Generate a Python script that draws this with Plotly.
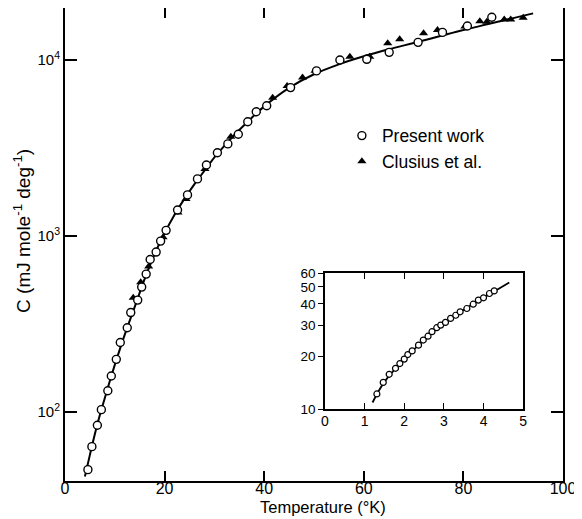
import plotly.graph_objects as go

# ---- Data ----
present_T = [4.6, 5.4, 6.5, 7.3, 8.6, 9.3, 10.3, 11.1, 12.5, 13.2, 14.6, 15.4, 16.3, 17.1,
             18.3, 19.2, 20.3, 22.6, 24.6, 26.6, 28.4, 30.6, 32.7, 34.8, 36.7, 38.4, 40.5,
             45.3, 50.5, 55.2, 60.6, 65.1, 70.9, 75.8, 80.8, 85.7]
present_C = [47, 63.5, 84, 103, 132, 160, 199, 248, 301, 367, 432, 512, 607, 735,
             810, 935, 1076, 1405, 1711, 2110, 2530, 2970, 3335, 3785, 4455, 5080, 5495,
             6970, 8670, 10000, 10090, 11050, 12600, 14350, 15600, 17500]

clusius_T = [13.7, 15.2, 16.8, 19.7, 22.7, 24.3, 28.1, 33.3, 38.5, 41.7, 44.6, 47.7, 50.2,
             57.2, 61.2, 64.8, 67.2, 72.0, 74.8, 80.3, 83.3, 84.7, 88.2, 89.5, 92.0]
clusius_C = [445, 545, 670, 984, 1360, 1620, 2400, 3660, 5130, 6110, 7110, 7950, 8700,
             10450, 10450, 12450, 13100, 14200, 14790, 15500, 16600, 16500, 17000, 17000, 17400]

curve_T = [4, 5, 6, 7, 8, 9, 10, 12, 14, 16, 18, 20, 22, 24, 26, 28, 30, 32, 34, 37, 40,
           45, 50, 55, 60, 65, 70, 75, 80, 85, 90, 94]
curve_C = [43, 57, 75, 96, 120, 150, 185, 275, 395, 570, 790, 1040, 1320, 1630, 1970, 2350,
           2800, 3250, 3750, 4550, 5450, 6950, 8300, 9450, 10500, 11500, 12500, 13600, 14800,
           16000, 17300, 18400]

inset_T = [1.31, 1.47, 1.62, 1.78, 1.89, 2.0, 2.09, 2.2, 2.36, 2.48, 2.60, 2.70, 2.82, 2.92,
           3.04, 3.17, 3.30, 3.41, 3.58, 3.74, 3.87, 4.0, 4.15, 4.27]
inset_C = [12.2, 14.2, 15.8, 17.1, 18.2, 19.3, 20.5, 21.5, 23.2, 24.8, 26.1, 27.7, 29.2, 30.2,
           31.3, 33.0, 34.4, 36.0, 37.6, 39.8, 42.0, 43.3, 45.8, 47.4]

inset_curve_T = [1.2, 1.5, 2.0, 2.5, 3.0, 3.5, 4.0, 4.65]
inset_curve_C = [10.9, 14.3, 19.3, 24.8, 30.8, 37.0, 43.3, 53.0]

x_ticks = [0, 20, 40, 60, 80, 100]
y_ticks = [100, 1000, 10000]
y_ticktext = ["10<sup>2</sup>", "10<sup>3</sup>", "10<sup>4</sup>"]
inset_x_ticks = [0, 1, 2, 3, 4, 5]
inset_y_ticks = [10, 20, 30, 40, 50, 60]

x_title = "Temperature (°K)"
y_title = "C (mJ mole<sup>-1</sup> deg<sup>-1</sup>)"

FONT = "Liberation Sans"
fig = go.Figure()

fig.add_trace(go.Scatter(x=curve_T, y=curve_C, mode="lines", line=dict(color="black", width=2, shape="spline"),
                         showlegend=False, hoverinfo="skip"))
fig.add_trace(go.Scatter(x=clusius_T, y=clusius_C, mode="markers", name="Clusius et al.",
                         marker=dict(symbol="triangle-up", size=8, color="black"), legendrank=2))
fig.add_trace(go.Scatter(x=present_T, y=present_C, mode="markers", name="Present work",
                         marker=dict(symbol="circle", size=8, color="white", line=dict(color="black", width=1.4)),
                         legendrank=1))

fig.add_trace(go.Scatter(x=inset_curve_T, y=inset_curve_C, mode="lines", xaxis="x2", yaxis="y2",
                         line=dict(color="black", width=1.8, shape="spline"), showlegend=False, hoverinfo="skip"))
fig.add_trace(go.Scatter(x=inset_T, y=inset_C, mode="markers", xaxis="x2", yaxis="y2", showlegend=False,
                         marker=dict(symbol="circle", size=6, color="white", line=dict(color="black", width=1.2))))

fig.update_layout(
    width=574, height=511,
    margin=dict(l=57, r=19, t=0, b=38, autoexpand=False),
    paper_bgcolor="white", plot_bgcolor="white",
    font=dict(family=FONT, color="black", size=15),
    legend=dict(x=0.556, y=0.768, xanchor="left", yanchor="top", bgcolor="rgba(0,0,0,0)",
                font=dict(size=17.5), itemwidth=30, tracegroupgap=5),
    xaxis=dict(domain=[0, 1], range=[0, 100], tickvals=x_ticks, ticks="inside", ticklen=10, tickwidth=1.5,
               tickcolor="black", showline=True, linewidth=2, linecolor="black", mirror="ticks",
               showgrid=False, zeroline=False, tickfont=dict(size=16), automargin=False,
               ticklabelstandoff=-8),
    yaxis=dict(type="log", range=[1.6075, 4.2955], tickvals=y_ticks, ticktext=y_ticktext,
               ticks="inside", ticklen=12, tickwidth=1.5, tickcolor="black", showline=True, linewidth=2,
               linecolor="black", mirror="ticks", showgrid=False, zeroline=False, tickfont=dict(size=15),
               automargin=False),
    xaxis2=dict(domain=[0.522, 0.92], anchor="y2", range=[0, 5], tickvals=inset_x_ticks, ticks="inside",
                ticklen=6, tickwidth=1.3, tickcolor="black", showline=True, linewidth=1.5, linecolor="black",
                mirror="ticks", showgrid=False, zeroline=False, tickfont=dict(size=14), ticklabelstandoff=-2,
                automargin=False),
    yaxis2=dict(domain=[0.1522, 0.4397], anchor="x2", type="log", range=[1, 1.77815],
                tickvals=inset_y_ticks, ticks="outside", ticklen=5, tickwidth=1.3, tickcolor="black",
                showline=True, linewidth=1.5, linecolor="black", mirror=True, showgrid=False, zeroline=False,
                tickfont=dict(size=13.5), ticklabelstandoff=0, automargin=False),
    yaxis3=dict(overlaying="y2", anchor="x2", side="right", type="log", range=[1, 1.77815],
                tickvals=inset_y_ticks, ticks="inside", ticklen=5, tickwidth=1.3, tickcolor="black",
                showticklabels=False, showline=False, showgrid=False, zeroline=False, automargin=False),
    annotations=[
        dict(text=x_title, xref="paper", yref="paper", x=0.518, y=-0.054, xanchor="center", yanchor="middle",
             showarrow=False, font=dict(size=16.5)),
        dict(text=y_title, xref="paper", yref="paper", x=-0.085, y=0.528, xanchor="center", yanchor="middle",
             textangle=-90, showarrow=False, font=dict(size=19)),
    ],
)

fig.write_html("out.html")
